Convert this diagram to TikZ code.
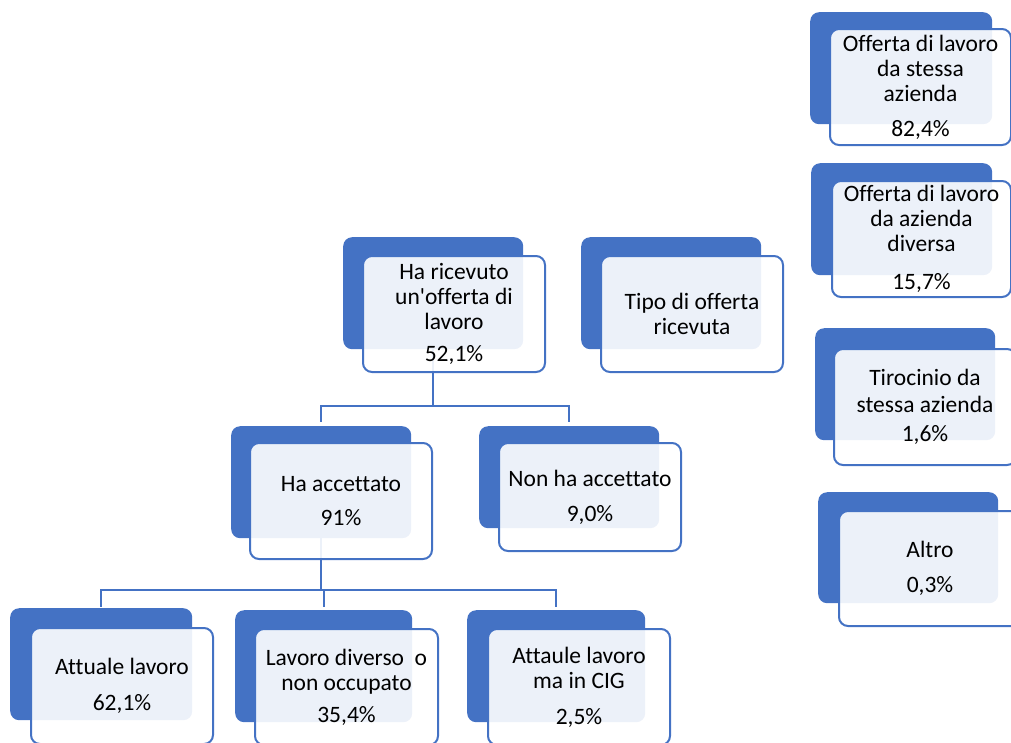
\documentclass[tikz,border=0pt]{standalone}
\usepackage{fontspec}
\setmainfont{Carlito}[Ligatures={NoCommon,NoContextual},Contextuals=NoAlternate]
\usetikzlibrary{positioning,backgrounds}
\definecolor{cardblue}{HTML}{4472C4}

\tikzset{
  back/.style={fill=cardblue,rounded corners=9pt,minimum width=180pt,minimum height=112pt,anchor=north west,inner sep=0pt},
  front/.style={draw=cardblue,line width=2pt,fill=white,fill opacity=0.9,text opacity=1,rounded corners=9pt,
    minimum width=182pt,minimum height=116pt,anchor=north west,align=center,inner sep=0pt,
    font=\fontsize{23.5}{25}\selectfont},
  conn/.style={draw=cardblue,line width=2.2pt},
}

\begin{document}
\begin{tikzpicture}[x=1pt,y=-1pt]
  \useasboundingbox (0,0) rectangle (1011,742);

  % top of the tree
  \node[back] (ricevuto-b) at (343,237) {};
  \node[front] (ricevuto) at ([shift={(19pt,-18pt)}]ricevuto-b.north west) {Ha ricevuto\\un\textquotesingle offerta di\\lavoro\\[7pt]52,1\%};
  \node[back] (tipo-b) at (581,237) {};
  \node[front] (tipo) at ([shift={(19pt,-18pt)}]tipo-b.north west) {Tipo di offerta\\ricevuta};

  % second level
  \node[back] (accettato-b) at (231,426) {};
  \node[front] (accettato) at ([shift={(18pt,-16pt)}]accettato-b.north west) {Ha accettato\\[9pt]91\%};
  \node[back,minimum height=102pt] (nonacc-b) at (479,426) {};
  \node[front,minimum height=108pt] (nonacc) at ([shift={(19pt,-16pt)}]nonacc-b.north west) {Non ha accettato\\[10pt]9,0\%};

  % third level
  \node[back,minimum width=182pt] (attuale-b) at (10,608) {};
  \node[front] (attuale) at ([shift={(20pt,-19pt)}]attuale-b.north west) {Attuale lavoro\\[11pt]62,1\%};
  \node[back,minimum width=177pt] (diverso-b) at (235,610) {};
  \node[front,minimum width=183pt] (diverso) at ([shift={(19pt,-18pt)}]diverso-b.north west) {Lavoro diverso\ \ o\\non occupato\\[7pt]35,4\%};
  \node[back,minimum width=178pt] (cig-b) at (467,610) {};
  \node[front] (cig) at ([shift={(20pt,-18pt)}]cig-b.north west) {Attaule lavoro\\ma in CIG\\[11pt]2,5\%};

  % type of offer
  \node[back,minimum width=182pt] (stessa-b) at (810,12) {};
  \node[front,minimum width=181pt] (stessa) at ([shift={(19pt,-16pt)}]stessa-b.north west) {Offerta di lavoro\\da stessa\\azienda\\[10pt]82,4\%};
  \node[back,minimum width=181pt] (diversa-b) at (811,163) {};
  \node[front,minimum width=179pt] (diversa) at ([shift={(20pt,-17pt)}]diversa-b.north west) {Offerta di lavoro\\da azienda\\diversa\\[13pt]15,7\%};
  \node[back] (tirocinio-b) at (815,328) {};
  \node[front] (tirocinio) at ([shift={(18pt,-20pt)}]tirocinio-b.north west) {Tirocinio da\\[2pt]stessa azienda\\[4pt]1,6\%};
  \node[back,minimum height=111pt] (altro-b) at (818,492) {};
  \node[front,minimum height=115pt] (altro) at ([shift={(20pt,-18pt)}]altro-b.north west) {Altro\\[10pt]0,3\%};

  % connectors behind the cards
  \begin{scope}[on background layer]
    \draw[conn] (ricevuto-b.center) -- (ricevuto-b.center |- 0,406) -| ([yshift=4pt]accettato-b.north);
    \draw[conn] (ricevuto-b.center |- 0,406) -| ([yshift=4pt]nonacc-b.north);
    \draw[conn] (accettato-b.center) -- (accettato-b.center |- 0,590) -| ([yshift=1pt]attuale-b.north);
    \draw[conn] (accettato-b.center |- 0,590) -| ([yshift=3pt]diverso-b.north);
    \draw[conn] (accettato-b.center |- 0,590) -| ([yshift=3pt]cig-b.north);
  \end{scope}
\end{tikzpicture}
\end{document}
